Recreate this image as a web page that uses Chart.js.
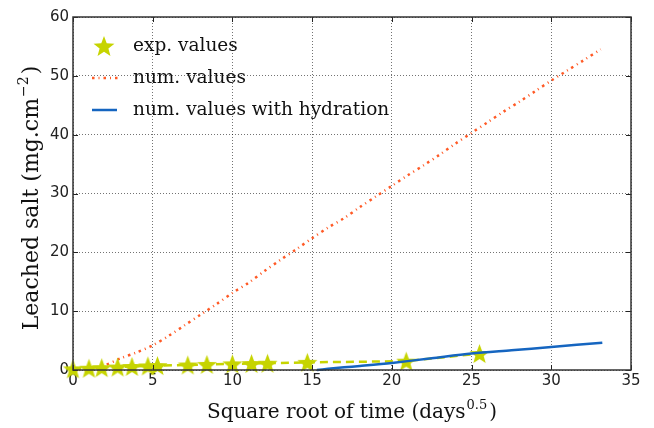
<!DOCTYPE html>
<html>
<head>
<meta charset="utf-8">
<script src="https://cdn.jsdelivr.net/npm/chart.js@4"></script>
<style>
  html, body { margin: 0; padding: 0; background: #fff; }
  #wrap { width: 654px; height: 428px; }
</style>
</head>
<body>
<div id="wrap"><canvas id="leachChart" width="654" height="428"></canvas></div>
<script>
// experimental points (sqrt of days, mg/cm2)
const expX = [0, 1, 1.8, 2.8, 3.7, 4.7, 5.3, 7.2, 8.4, 10, 11.2, 12.2, 14.7, 20.9, 25.5];
const expY = [0.2, 0.3, 0.4, 0.5, 0.6, 0.7, 0.75, 0.85, 0.95, 1.05, 1.1, 1.15, 1.3, 1.5, 2.8];

// numerical model
const numX = [0, 1, 2, 3, 4, 5, 6, 7, 8, 9, 10, 11, 12, 13, 14, 15, 16, 17, 18, 19, 20, 21, 22, 23, 24, 25, 26, 27, 28, 29, 30, 31, 32, 33.1];
const numY = [0, 0.1, 0.8, 2.0, 3.0, 4.2, 5.8, 7.6, 9.4, 11.2, 13.1, 14.8, 16.8, 18.7, 20.5, 22.4, 24.2, 25.8, 27.7, 29.5, 31.3, 33.1, 34.8, 36.6, 38.5, 40.3, 42.1, 43.9, 45.6, 47.4, 49.2, 50.9, 52.6, 54.5];

// numerical model with hydration
const hydX = [15.3, 16, 17, 18, 20, 22.5, 25, 27.5, 30, 33.2];
const hydY = [0, 0.2, 0.45, 0.68, 1.2, 2.0, 2.8, 3.35, 3.9, 4.65];

const xTicks = [0, 5, 10, 15, 20, 25, 30, 35];
const yTicks = [0, 10, 20, 30, 40, 50, 60];

const seriesLabels = ['exp. values', 'num. values', 'num. values with hydration'];

const STAR_COLOR = '#c6d400';
const NUM_COLOR = '#ff5a26';
const HYD_COLOR = '#1565c0';
const NUM_DASH = [2.5, 4, 1, 4];

function makeStar(size, color) {
    const c = document.createElement('canvas');
    c.width = size; c.height = size;
    const g = c.getContext('2d');
    const cx = size / 2, cy = size / 2 + size * 0.05;
    const rOut = size / 2, rIn = rOut * 0.42;
    g.beginPath();
    for (let i = 0; i < 10; i++) {
        const r = i % 2 === 0 ? rOut : rIn;
        const a = -Math.PI / 2 + i * Math.PI / 5;
        const px = cx + r * Math.cos(a), py = cy + r * Math.sin(a);
        if (i === 0) g.moveTo(px, py); else g.lineTo(px, py);
    }
    g.closePath();
    g.fillStyle = color;
    g.fill();
    return c;
}

const starImg = makeStar(21, STAR_COLOR);
const legendStar = makeStar(22, STAR_COLOR);

const pairs = (xs, ys) => xs.map((x, i) => ({ x: x, y: ys[i] }));

// draws "main^sup)" starting at x, baseline 0 of the current transform
function supText(ctx, main, sup, x, y, big, small, lift) {
    ctx.font = big + 'px "DejaVu Serif", serif';
    const w1 = ctx.measureText(main).width;
    ctx.fillText(main, x, y);
    ctx.font = small + 'px "DejaVu Serif", serif';
    const w2 = ctx.measureText(sup).width;
    ctx.fillText(sup, x + w1 + 1, y - lift);
    ctx.font = big + 'px "DejaVu Serif", serif';
    ctx.fillText(')', x + w1 + w2 + 3, y);
}

function supWidth(ctx, main, sup, big, small) {
    ctx.font = big + 'px "DejaVu Serif", serif';
    const w1 = ctx.measureText(main).width + ctx.measureText(')').width;
    ctx.font = small + 'px "DejaVu Serif", serif';
    return w1 + ctx.measureText(sup).width + 3;
}

// frame, inner ticks, legend, axis titles
const decorPlugin = {
    id: 'decor',
    afterDraw(chart) {
        const ctx = chart.ctx;
        const a = chart.chartArea;
        const xs = chart.scales.x, ys = chart.scales.y;
        ctx.save();
        // inner ticks
        ctx.strokeStyle = '#222';
        ctx.lineWidth = 1;
        ctx.beginPath();
        xTicks.forEach(v => {
            const p = Math.round(xs.getPixelForValue(v)) + 0.5;
            ctx.moveTo(p, a.bottom); ctx.lineTo(p, a.bottom - 5);
            ctx.moveTo(p, a.top); ctx.lineTo(p, a.top + 5);
        });
        yTicks.forEach(v => {
            const p = Math.round(ys.getPixelForValue(v)) + 0.5;
            ctx.moveTo(a.left, p); ctx.lineTo(a.left + 5, p);
            ctx.moveTo(a.right, p); ctx.lineTo(a.right - 5, p);
        });
        ctx.stroke();
        // frame
        ctx.strokeStyle = '#333';
        ctx.lineWidth = 1.5;
        ctx.strokeRect(a.left, a.top, a.right - a.left, a.bottom - a.top);

        // legend
        ctx.font = '18.5px "DejaVu Serif", serif';
        ctx.fillStyle = '#111';
        ctx.textBaseline = 'middle';
        ctx.textAlign = 'left';
        const rows = [46, 78, 110];
        ctx.drawImage(legendStar, 104 - 11, rows[0] - 11);
        ctx.fillText(seriesLabels[0], 133, rows[0]);
        ctx.strokeStyle = NUM_COLOR;
        ctx.lineWidth = 2.5;
        ctx.setLineDash(NUM_DASH);
        ctx.beginPath(); ctx.moveTo(92, rows[1]); ctx.lineTo(120, rows[1]); ctx.stroke();
        ctx.setLineDash([]);
        ctx.fillText(seriesLabels[1], 133, rows[1]);
        ctx.strokeStyle = HYD_COLOR;
        ctx.lineWidth = 2.5;
        ctx.beginPath(); ctx.moveTo(92, rows[2]); ctx.lineTo(117, rows[2]); ctx.stroke();
        ctx.fillText(seriesLabels[2], 133, rows[2]);

        // x title
        ctx.fillStyle = '#111';
        ctx.textBaseline = 'alphabetic';
        const xMain = 'Square root of time (days', xSup = '0.5';
        const xw = supWidth(ctx, xMain, xSup, 20, 13);
        supText(ctx, xMain, xSup, (a.left + a.right) / 2 - xw / 2, 418, 20, 13, 9);

        // y title, rotated
        ctx.translate(38, 198);
        ctx.rotate(-Math.PI / 2);
        const yMain = 'Leached salt (mg.cm', ySup = '\u22122';
        const yw = supWidth(ctx, yMain, ySup, 22, 14);
        supText(ctx, yMain, ySup, -yw / 2, 0, 22, 14, 10);
        ctx.restore();
    }
};

const ctx = document.getElementById('leachChart').getContext('2d');

const leachChart = new Chart(ctx, {
    type: 'scatter',
    data: {
        datasets: [
            {
                label: seriesLabels[1],
                data: pairs(numX, numY),
                showLine: true,
                borderColor: NUM_COLOR,
                borderWidth: 2.5,
                borderDash: NUM_DASH,
                pointRadius: 0,
                tension: 0.3,
                order: 3
            },
            {
                label: seriesLabels[0],
                data: pairs(expX, expY),
                showLine: true,
                borderColor: STAR_COLOR,
                borderWidth: 2.5,
                borderDash: [8, 5],
                pointStyle: starImg,
                pointRadius: 10,
                order: 2
            },
            {
                label: seriesLabels[2],
                data: pairs(hydX, hydY),
                showLine: true,
                borderColor: HYD_COLOR,
                borderWidth: 2.5,
                pointRadius: 0,
                tension: 0.3,
                order: 1
            }
        ]
    },
    options: {
        responsive: false,
        animation: false,
        clip: false,
        layout: { padding: { top: 17, right: 23, left: 0, bottom: 0 } },
        plugins: {
            legend: { display: false },
            tooltip: { enabled: false }
        },
        scales: {
            x: {
                type: 'linear',
                min: 0,
                max: 35,
                afterBuildTicks: s => { s.ticks = xTicks.map(v => ({ value: v })); },
                afterFit: s => { s.height = 58; },
                ticks: {
                    color: '#222',
                    font: { family: '"DejaVu Sans", sans-serif', size: 15 },
                    padding: 2,
                    maxRotation: 0
                },
                grid: {
                    color: 'rgba(0,0,0,0.55)',
                    lineWidth: 1,
                    drawTicks: false
                },
                border: { display: false, dash: [1, 2] }
            },
            y: {
                type: 'linear',
                min: 0,
                max: 60,
                afterBuildTicks: s => { s.ticks = yTicks.map(v => ({ value: v })); },
                afterFit: s => { s.width = 73; },
                ticks: {
                    color: '#222',
                    font: { family: '"DejaVu Sans", sans-serif', size: 15 },
                    padding: 4
                },
                grid: {
                    color: 'rgba(0,0,0,0.55)',
                    lineWidth: 1,
                    drawTicks: false
                },
                border: { display: false, dash: [1, 2] }
            }
        }
    },
    plugins: [decorPlugin]
});
</script>
</body>
</html>
